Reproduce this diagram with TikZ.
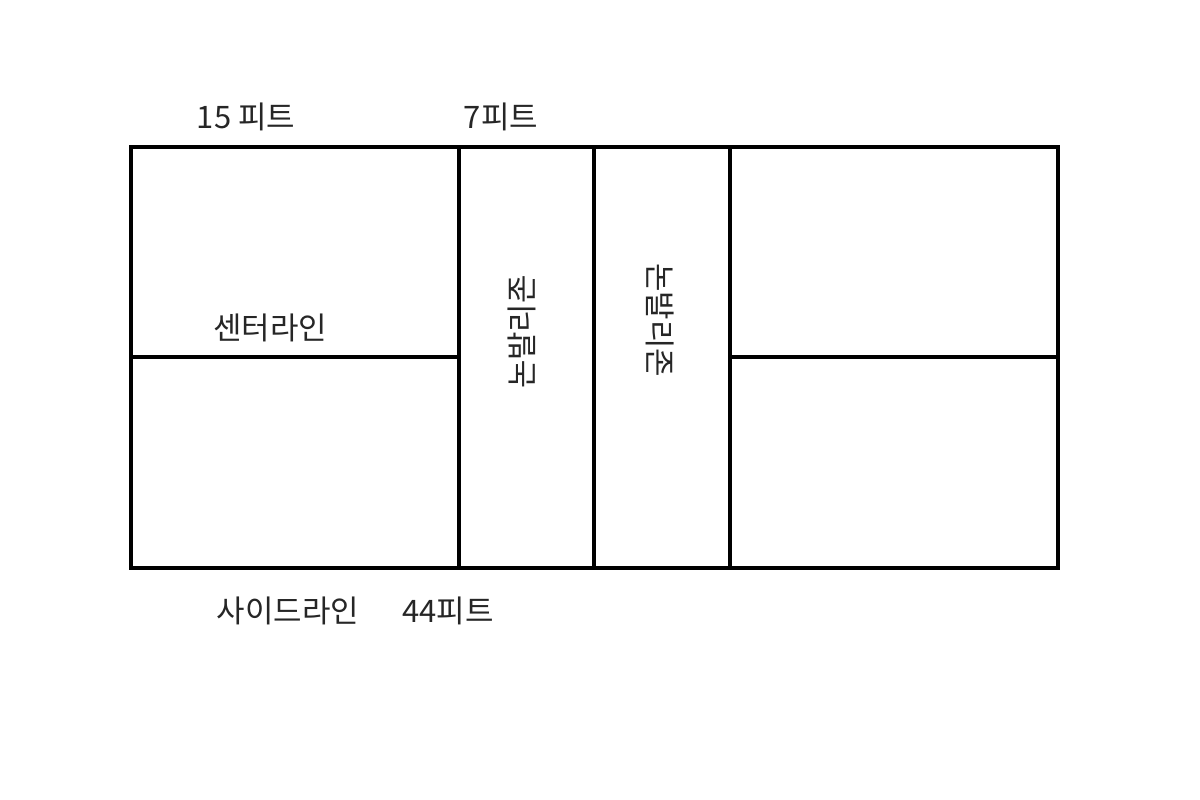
\documentclass[tikz,border=0pt]{standalone}
\usepackage{fontspec}
\setmainfont{Noto Sans CJK KR}
\begin{document}
\begin{tikzpicture}[x=0.01cm,y=-0.01cm,
  court/.style={line width=0.95pt,draw=black},
  lbl/.style={font=\fontsize{8.8pt}{10pt}\selectfont,text=black!85,inner sep=0pt}]
\useasboundingbox[fill=white] (0,0) rectangle (1200,800);
\coordinate (tl) at (131,147);
\coordinate (br) at (1058,568);
\draw[court] (tl) rectangle (br);
\coordinate (v1t) at (459,147); \coordinate (v1b) at (459,568);
\coordinate (v2t) at (594,147); \coordinate (v2b) at (594,568);
\coordinate (v3t) at (730,147); \coordinate (v3b) at (730,568);
\draw[court] (v1t) -- (v1b);
\draw[court] (v2t) -- (v2b);
\draw[court] (v3t) -- (v3b);
\coordinate (c1a) at (131,357); \coordinate (c1b) at (459,357);
\coordinate (c2a) at (730,357); \coordinate (c2b) at (1058,357);
\draw[court] (c1a) -- (c1b);
\draw[court] (c2a) -- (c2b);
\node[lbl] (ft15) at (246,117) {15 피트};
\node[lbl] (ft7) at (501,117) {7피트};
\node[lbl] (center) at (270,328) {센터라인};
\node[lbl] (side) at (288,611) {사이드라인};
\node[lbl] (ft44) at (448,611) {44피트};
\node[lbl,rotate=90] (nvz1) at (522,332) {논발리존};
\node[lbl,rotate=-90] (nvz2) at (660,320) {논발리존};
\end{tikzpicture}
\end{document}
